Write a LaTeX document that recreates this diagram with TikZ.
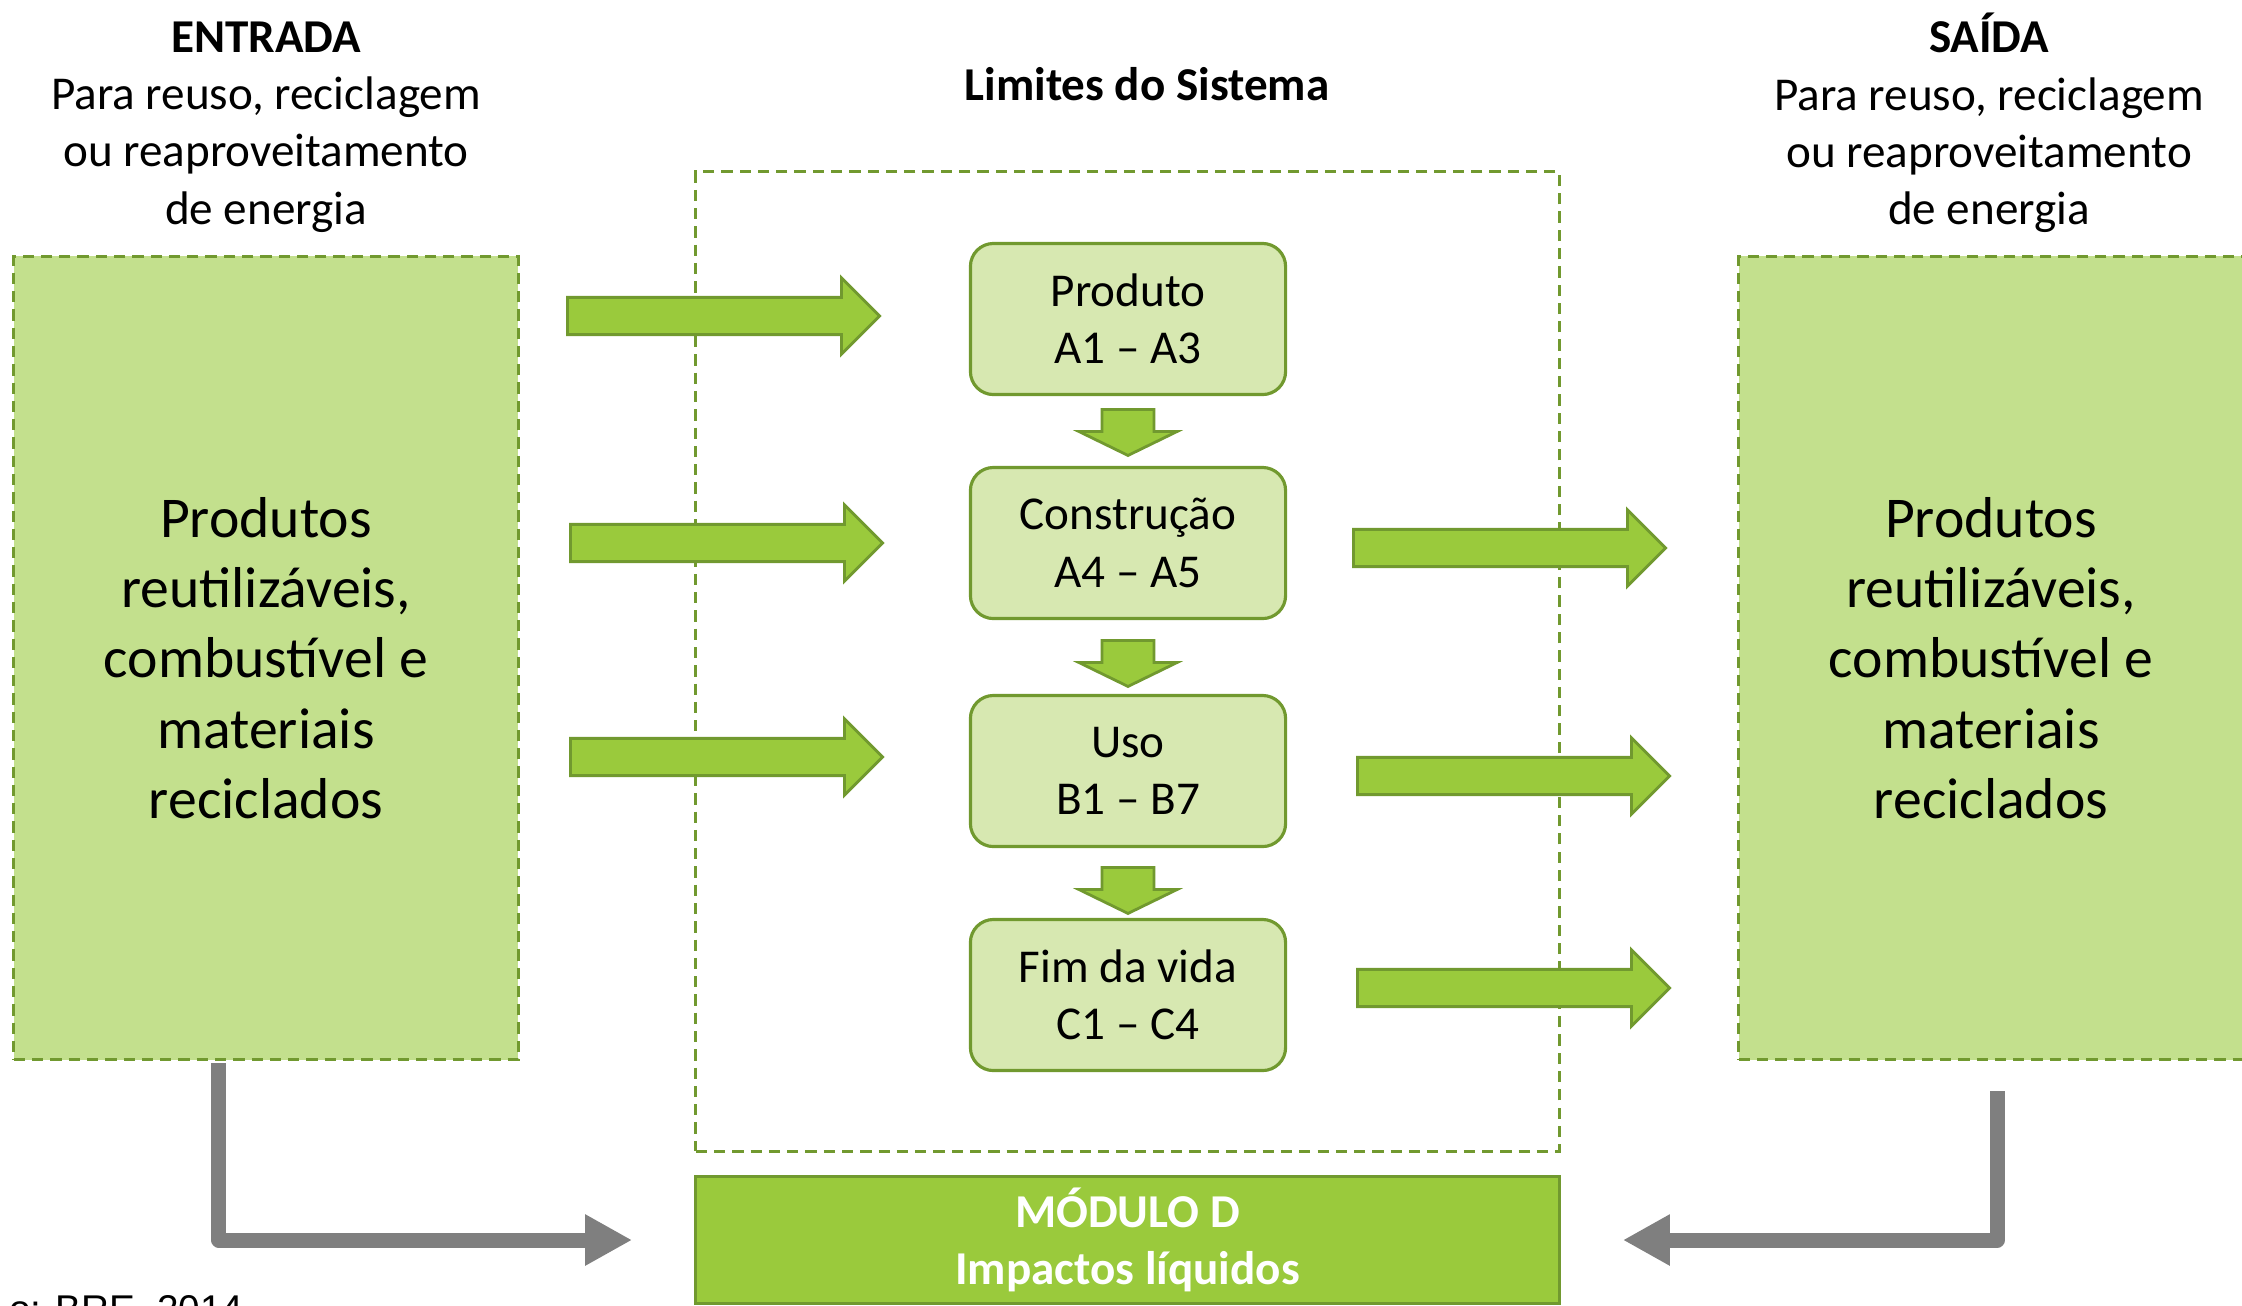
\documentclass[tikz,border=0pt]{standalone}
\usepackage{fontspec}
\setmainfont{Carlito}
\newfontfamily\srcfont{Liberation Sans}
\usetikzlibrary{shapes.arrows,arrows.meta}
\definecolor{darkgrn}{HTML}{71992F}
\definecolor{arrowgrn}{HTML}{9ACA3C}
\definecolor{sidegrn}{HTML}{C3E08D}
\definecolor{stagegrn}{HTML}{D7E8B1}
\definecolor{loopgray}{HTML}{7F7F7F}
\newcommand{\lblfont}{\fontsize{13.4}{16.3}\selectfont}
\newcommand{\bigfont}{\fontsize{16.4}{20}\selectfont}

\tikzset{
  sidebox/.style={draw=darkgrn, fill=sidegrn, line width=0.9pt, dash pattern=on 3.2pt off 2pt,
    minimum width=5.04cm, minimum height=8.03cm, align=center, font=\bigfont},
  stagebox/.style={draw=darkgrn, fill=stagegrn, line width=0.9pt, rounded corners=0.23cm,
    minimum width=3.15cm, minimum height=1.51cm, align=center, font=\lblfont},
  fwdarrow/.style={single arrow, draw=darkgrn, fill=arrowgrn, line width=0.8pt, inner xsep=0pt,
    inner ysep=0.172cm, single arrow head extend=0.195cm, minimum height=3.12cm, anchor=tail},
  downarrow/.style={single arrow, draw=darkgrn, fill=arrowgrn, line width=0.8pt, inner xsep=0pt,
    inner ysep=0.245cm, single arrow head extend=0.23cm, single arrow tip angle=128,
    minimum height=0.46cm, rotate=-90, anchor=tail},
  loopline/.style={draw=loopgray, line width=0.15cm, line join=round,
    -{Triangle[length=0.47cm, width=0.48cm]}},
  toplabel/.style={align=center, font=\lblfont}
}

\begin{document}
\begin{tikzpicture}[x=0.01cm, y=-0.01cm]

    \useasboundingbox (0,0) rectangle (2242,1305);

    % labels on top
    \node[toplabel] (inlbl) at (266,127) {\textbf{ENTRADA}\\Para reuso, reciclagem\\ou reaproveitamento\\de energia};
    \node[toplabel] (outlbl) at (1989,123) {\textbf{SAÍDA}\\Para reuso, reciclagem\\ou reaproveitamento\\de energia};
    \node[toplabel] (limlbl) at (1147,84) {\textbf{Limites do Sistema}};

    % system boundary
    \node[draw=darkgrn, line width=0.9pt, dash pattern=on 3.2pt off 2pt,
      minimum width=8.63cm, minimum height=9.79cm] (sysb) at (1127.5,661.5) {};

    % side boxes
    \node[sidebox] (entrada) at (266,658) {Produtos\\reutilizáveis,\\combustível e\\materiais\\reciclados};
    \node[sidebox] (saida) at (1991,658) {Produtos\\reutilizáveis,\\combustível e\\materiais\\reciclados};

    % life cycle stages
    \node[stagebox] (prod) at (1128,319) {Produto\\A1 -- A3};
    \node[stagebox] (cons) at (1128,543) {Construção\\A4 -- A5};
    \node[stagebox] (uso) at (1128,771) {Uso\\B1 -- B7};
    \node[stagebox] (fim) at (1128,995) {Fim da vida\\C1 -- C4};

    \node[downarrow] (d1) at (1128,408) {};
    \node[downarrow] (d2) at (1128,639) {};
    \node[downarrow] (d3) at (1128,866) {};

    % flows in and out
    \node[fwdarrow] (in1) at (566,316) {};
    \node[fwdarrow] (in2) at (569,543) {};
    \node[fwdarrow] (in3) at (569,757) {};

    \node[fwdarrow] (out1) at (1352,548) {};
    \node[fwdarrow] (out2) at (1356,776) {};
    \node[fwdarrow] (out3) at (1356,988) {};

    % module D
    \node[draw=darkgrn, fill=arrowgrn, line width=0.9pt, minimum width=8.63cm, minimum height=1.24cm,
      align=center, font=\lblfont\bfseries, text=white] (modd) at (1127.5,1240) {MÓDULO D\\Impactos líquidos};

    \draw[loopline] ([xshift=-0.47cm, yshift=-0.02cm]entrada.south) |- ([xshift=-0.62cm]modd.west);
    \draw[loopline] ([xshift=0.06cm, yshift=-0.3cm]saida.south) |- ([xshift=0.62cm]modd.east);

    \node[anchor=base west, font=\srcfont\fontsize{11}{13}\selectfont] (src) at (-3,1322) {o: BRE, 2014};
  \end{tikzpicture}
\end{document}
